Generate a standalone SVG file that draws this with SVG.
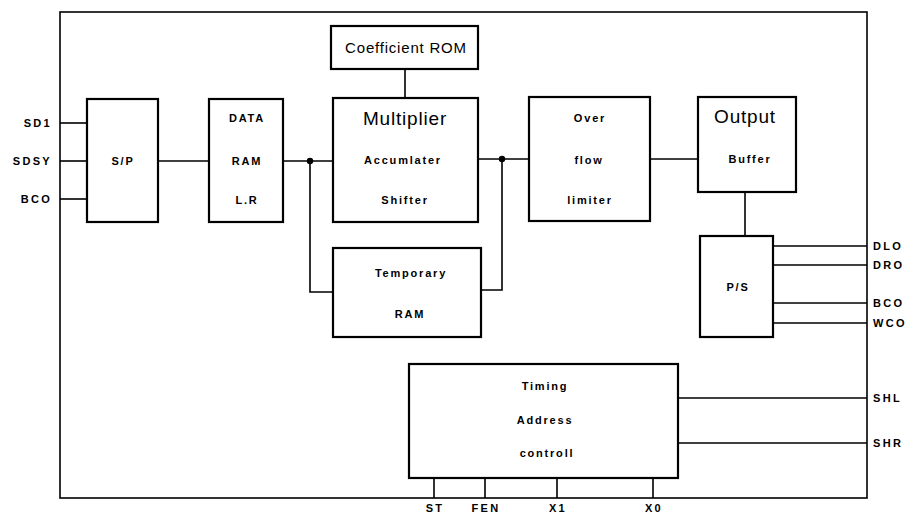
<svg xmlns="http://www.w3.org/2000/svg" width="907" height="515" viewBox="0 0 907 515">
<style>
.box{fill:#fff;stroke:#000;stroke-width:2.2}
.ln{fill:none;stroke:#000;stroke-width:1.6}
.t{font-family:"Liberation Sans",Arial,sans-serif;font-weight:bold;font-size:11px;letter-spacing:1.8px;text-anchor:middle;fill:#000}
.pin{font-family:"Liberation Sans",Arial,sans-serif;font-weight:bold;font-size:11px;letter-spacing:2.3px;fill:#000}
.big{font-family:"Liberation Sans",Arial,sans-serif;font-size:19px;letter-spacing:0.8px;text-anchor:middle;fill:#000}
</style>
<rect width="907" height="515" fill="#fff"/>
<g id="connectors">
<rect x="60" y="12" width="807" height="486" class="ln"/>
<line x1="60" y1="123" x2="87" y2="123" class="ln"/>
<line x1="60" y1="161" x2="87" y2="161" class="ln"/>
<line x1="60" y1="199" x2="87" y2="199" class="ln"/>
<line x1="158" y1="161" x2="209" y2="161" class="ln"/>
<line x1="283" y1="161" x2="333" y2="161" class="ln"/>
<circle cx="310" cy="161" r="3.2" fill="#000"/>
<polyline points="310,161 310,292 333,292" class="ln"/>
<line x1="405" y1="69" x2="405" y2="98" class="ln"/>
<line x1="478" y1="159" x2="529" y2="159" class="ln"/>
<circle cx="502" cy="159" r="3.2" fill="#000"/>
<polyline points="502,159 502,290 481,290" class="ln"/>
<line x1="650" y1="159" x2="698" y2="159" class="ln"/>
<line x1="745" y1="192" x2="745" y2="236" class="ln"/>
<line x1="773" y1="246" x2="867" y2="246" class="ln"/>
<line x1="773" y1="265" x2="867" y2="265" class="ln"/>
<line x1="773" y1="303" x2="867" y2="303" class="ln"/>
<line x1="773" y1="323" x2="867" y2="323" class="ln"/>
<line x1="678" y1="398" x2="867" y2="398" class="ln"/>
<line x1="678" y1="443" x2="867" y2="443" class="ln"/>
<line x1="434" y1="478" x2="434" y2="498" class="ln"/>
<line x1="485" y1="478" x2="485" y2="498" class="ln"/>
<line x1="557" y1="478" x2="557" y2="498" class="ln"/>
<line x1="653" y1="478" x2="653" y2="498" class="ln"/>
</g>
<g id="pins">
<text x="52" y="127" class="pin" text-anchor="end">SD1</text>
<text x="52" y="165" class="pin" text-anchor="end">SDSY</text>
<text x="52" y="203" class="pin" text-anchor="end">BCO</text>
<text x="873" y="250" class="pin">DLO</text>
<text x="873" y="269" class="pin">DRO</text>
<text x="873" y="307" class="pin">BCO</text>
<text x="873" y="327" class="pin">WCO</text>
<text x="873" y="402" class="pin">SHL</text>
<text x="873" y="447" class="pin">SHR</text>
<text x="435" y="512" class="pin" text-anchor="middle">ST</text>
<text x="486" y="512" class="pin" text-anchor="middle">FEN</text>
<text x="558" y="512" class="pin" text-anchor="middle">X1</text>
<text x="654" y="512" class="pin" text-anchor="middle">X0</text>
</g>
<g id="sp">
<rect x="87" y="99" width="71" height="123" class="box"/>
<text x="123" y="165" class="t">S/P</text>
</g>
<g id="dataram">
<rect x="209" y="99" width="74" height="123" class="box"/>
<text x="247" y="122" class="t">DATA</text>
<text x="247" y="165" class="t">RAM</text>
<text x="247" y="204" class="t">L.R</text>
</g>
<g id="coefrom">
<rect x="331" y="26" width="147" height="43" class="box"/>
<text x="406" y="53" class="big" style="font-size:15px">Coefficient ROM</text>
</g>
<g id="multiplier">
<rect x="333" y="98" width="145" height="124" class="box"/>
<text x="405" y="125" class="big">Multiplier</text>
<text x="403" y="164" class="t">Accumlater</text>
<text x="405" y="204" class="t">Shifter</text>
</g>
<g id="overflow">
<rect x="529" y="97" width="121" height="124" class="box"/>
<text x="590" y="122" class="t">Over</text>
<text x="589" y="164" class="t">flow</text>
<text x="590" y="204" class="t">limiter</text>
</g>
<g id="output">
<rect x="698" y="97" width="98" height="95" class="box"/>
<text x="745" y="123" class="big">Output</text>
<text x="750" y="163" class="t">Buffer</text>
</g>
<g id="ps">
<rect x="700" y="236" width="73" height="101" class="box"/>
<text x="738" y="291" class="t">P/S</text>
</g>
<g id="temprom">
<rect x="333" y="248" width="148" height="89" class="box"/>
<text x="411" y="277" class="t">Temporary</text>
<text x="410" y="318" class="t">RAM</text>
</g>
<g id="timing">
<rect x="409" y="364" width="269" height="114" class="box"/>
<text x="545" y="390" class="t">Timing</text>
<text x="545" y="424" class="t">Address</text>
<text x="547" y="457" class="t">controll</text>
</g>
</svg>
